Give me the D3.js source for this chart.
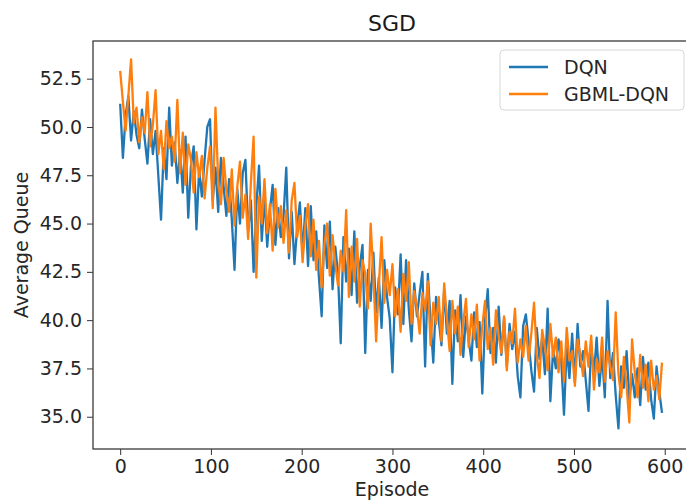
<!DOCTYPE html>
<html>
<head>
<meta charset="utf-8">
<script src="https://cdn.jsdelivr.net/npm/d3@7"></script>
<style>
  html, body { margin: 0; padding: 0; background: #fff; }
  svg { display: block; font-family: "DejaVu Sans", sans-serif; }
  .tick text { fill: #262626; }
</style>
</head>
<body>
<div id="chart"></div>
<script>
const seriesNames = ['DQN', 'GBML-DQN'];
const seriesColors = ['#1f77b4', '#ff7f0e'];
const xTicks = [0, 100, 200, 300, 400, 500, 600];
const yTicks = [35.0, 37.5, 40.0, 42.5, 45.0, 47.5, 50.0, 52.5];

// one reading every 3 episodes
const episodes = d3.range(0, 600, 3);

const dqn = [
  51.2, 48.4, 50.6, 51.6, 49.3, 50.8, 49.6, 48.9, 50.9, 49.4,
  48.1, 50.4, 48.6, 49.8, 47.5, 45.2, 48.9, 47.3, 51.0, 48.0,
  49.2, 47.1, 48.8, 46.6, 49.5, 45.3, 48.0, 49.0, 44.7, 47.8,
  46.4, 48.3, 50.0, 50.4, 46.2, 47.9, 45.6, 48.4, 46.9, 45.4,
  47.3, 45.2, 42.6, 46.8, 45.0, 47.6, 48.3, 44.6, 46.2, 42.5,
  45.9, 48.0, 44.1, 46.4, 43.8, 45.7, 47.0, 43.9, 45.8, 44.3,
  45.4, 47.9, 43.2, 45.6, 42.9, 44.8, 46.1, 43.4, 45.8, 42.8,
  45.9, 43.1, 44.6, 42.2, 40.2, 44.9, 42.7, 45.1, 41.6, 43.8,
  42.4, 38.8, 44.3, 42.0, 43.7, 41.3, 44.6, 40.9, 42.8, 43.9,
  38.3, 42.6, 41.0, 43.5, 40.4, 42.2, 39.6, 43.1, 41.2, 40.1,
  37.3, 41.7, 40.3, 43.4, 39.8, 43.1, 40.6, 38.9, 41.9, 40.2,
  41.4, 42.5, 37.6, 42.4, 39.9, 37.8, 41.2, 40.0, 38.7, 41.6,
  39.3, 41.0, 36.7, 40.5, 38.9, 41.3, 38.1, 40.2, 39.0, 37.9,
  40.4, 38.6, 39.9, 36.2, 40.0, 41.6, 38.3, 39.6, 37.8, 40.7,
  38.2, 40.1, 37.6, 39.8, 38.5, 39.4, 37.1, 36.0, 39.7, 40.3,
  38.9, 37.4, 36.3, 39.6, 38.0, 39.1, 37.2, 40.6, 35.8, 38.5,
  37.5, 39.0, 37.9, 35.1, 38.6, 37.0, 39.3, 36.8, 39.8, 37.6,
  38.4, 36.9, 35.3, 38.7, 37.2, 39.1, 36.6, 38.2, 36.0, 41.0,
  37.0, 38.3, 36.1, 34.4, 37.6, 36.5, 38.4, 35.9, 37.2, 36.0,
  37.5, 35.6, 38.1, 36.4, 37.8, 35.9, 34.9, 37.6, 36.3, 35.2
];

const gbml = [
  52.9, 51.3, 49.8, 51.6, 53.5, 50.2, 51.0, 49.2, 50.5, 49.7,
  51.8, 49.0, 50.1, 51.9, 48.6, 49.8, 47.8, 50.3, 48.9, 49.5,
  48.2, 51.4, 47.6, 49.7, 47.0, 49.1, 48.3, 46.6, 48.7, 47.4,
  48.5, 46.3, 47.9, 49.0, 45.8, 51.0, 47.2, 46.0, 48.4, 46.7,
  45.6, 47.8, 44.9, 46.9, 48.2, 45.3, 46.5, 44.2, 47.1, 49.5,
  42.2, 46.4, 45.0, 47.3, 44.5, 46.0, 43.6, 46.8, 44.8, 45.9,
  44.0, 45.7, 43.5, 46.2, 47.1, 44.3, 45.4, 43.0, 44.9, 46.0,
  43.3, 45.2, 42.6, 44.1, 41.7, 43.9, 45.0, 42.3, 44.4, 42.9,
  41.8, 43.6, 42.5, 45.7, 41.2, 43.8, 42.0, 44.2, 40.7, 43.1,
  42.4, 40.6, 45.0, 42.3, 38.9, 41.8, 44.3, 40.9, 42.6, 41.3,
  42.9, 40.2, 41.6, 39.4, 42.4, 41.0, 43.0, 39.8, 41.5, 40.6,
  39.3, 41.4, 40.5, 42.0, 38.7, 40.9, 39.8, 41.2, 38.9, 41.9,
  40.1, 38.4, 41.0, 39.3, 40.7, 38.2, 39.9, 41.1, 38.6, 40.3,
  39.0, 40.8, 37.9, 39.7, 41.0, 38.5, 39.6, 37.7, 40.5, 39.2,
  38.3, 40.2, 37.4, 39.4, 38.8, 40.6, 37.8, 39.0, 38.1, 39.7,
  37.9, 39.3, 40.9, 38.2, 37.0, 39.5, 38.6, 37.4, 39.8, 38.1,
  39.1, 37.3, 38.9, 36.8, 39.6, 37.9, 38.4, 36.6, 39.0, 38.2,
  37.1, 38.9, 37.6, 39.2, 36.4, 38.0, 37.3, 39.1, 36.8, 38.4,
  37.6, 36.9, 40.4, 37.2, 36.0, 38.1, 36.6, 34.7, 39.0, 37.3,
  36.0, 38.2, 36.5, 37.7, 35.8, 37.9, 36.4, 37.1, 35.9, 37.8
];

const width = 686;
const height = 500;
const plot = { left: 93, right: 691, top: 41, bottom: 449 };

const svg = d3.select('#chart').append('svg')
  .attr('width', width)
  .attr('height', height)
  .attr('viewBox', `0 0 ${width} ${height}`);

const x = d3.scaleLinear().domain([-29.95, 628.95]).range([plot.left, plot.right]);
const y = d3.scaleLinear().domain([33.33, 54.45]).range([plot.bottom, plot.top]);

svg.append('defs').append('clipPath').attr('id', 'clip')
  .append('rect')
  .attr('x', plot.left).attr('y', plot.top)
  .attr('width', plot.right - plot.left).attr('height', plot.bottom - plot.top);

const line = d3.line().x((d) => x(d[0])).y((d) => y(d[1]));

[dqn, gbml].forEach((vals, k) => {
  svg.append('path')
    .datum(episodes.map((e, i) => [e, vals[i]]))
    .attr('clip-path', 'url(#clip)')
    .attr('fill', 'none')
    .attr('stroke', seriesColors[k])
    .attr('stroke-width', 2.3)
    .attr('stroke-linejoin', 'round')
    .attr('d', line);
});

// axes
svg.append('g')
  .attr('transform', `translate(0,${plot.bottom})`)
  .call(d3.axisBottom(x).tickValues(xTicks).tickSize(6).tickPadding(5).tickFormat(d3.format('d')))
  .call((g) => g.select('.domain').remove())
  .call((g) => g.selectAll('.tick line').attr('stroke', '#333'))
  .call((g) => g.selectAll('.tick text').attr('font-size', 19).attr('font-family', '"DejaVu Sans", sans-serif'));

svg.append('g')
  .attr('transform', `translate(${plot.left},0)`)
  .call(d3.axisLeft(y).tickValues(yTicks).tickSize(6).tickPadding(5).tickFormat(d3.format('.1f')))
  .call((g) => g.select('.domain').remove())
  .call((g) => g.selectAll('.tick line').attr('stroke', '#333'))
  .call((g) => g.selectAll('.tick text').attr('font-size', 19).attr('font-family', '"DejaVu Sans", sans-serif'));

// frame
svg.append('rect')
  .attr('x', plot.left).attr('y', plot.top)
  .attr('width', plot.right - plot.left).attr('height', plot.bottom - plot.top)
  .attr('fill', 'none')
  .attr('stroke', '#3a3a3a')
  .attr('stroke-width', 1.3);

svg.append('text')
  .attr('x', (plot.left + plot.right) / 2).attr('y', 31)
  .attr('text-anchor', 'middle')
  .attr('font-size', 22)
  .attr('fill', '#1a1a1a')
  .text('SGD');

svg.append('text')
  .attr('x', (plot.left + plot.right) / 2).attr('y', 496)
  .attr('text-anchor', 'middle')
  .attr('font-size', 19)
  .attr('fill', '#262626')
  .text('Episode');

svg.append('text')
  .attr('transform', `translate(28,${(plot.top + plot.bottom) / 2}) rotate(-90)`)
  .attr('text-anchor', 'middle')
  .attr('font-size', 19)
  .attr('fill', '#262626')
  .text('Average Queue');

// legend
const legend = svg.append('g').attr('transform', 'translate(500,50)');
legend.append('rect')
  .attr('width', 184).attr('height', 60).attr('rx', 4)
  .attr('fill', '#fff').attr('fill-opacity', 0.8)
  .attr('stroke', '#d6d6d6');
seriesNames.forEach((name, i) => {
  const row = legend.append('g').attr('transform', `translate(0,${17 + i * 27})`);
  row.append('line')
    .attr('x1', 9).attr('x2', 48)
    .attr('stroke', seriesColors[i]).attr('stroke-width', 2.3);
  row.append('text')
    .attr('x', 64).attr('y', 7)
    .attr('font-size', 19)
    .attr('fill', '#262626')
    .text(name);
});
</script>
</body>
</html>
